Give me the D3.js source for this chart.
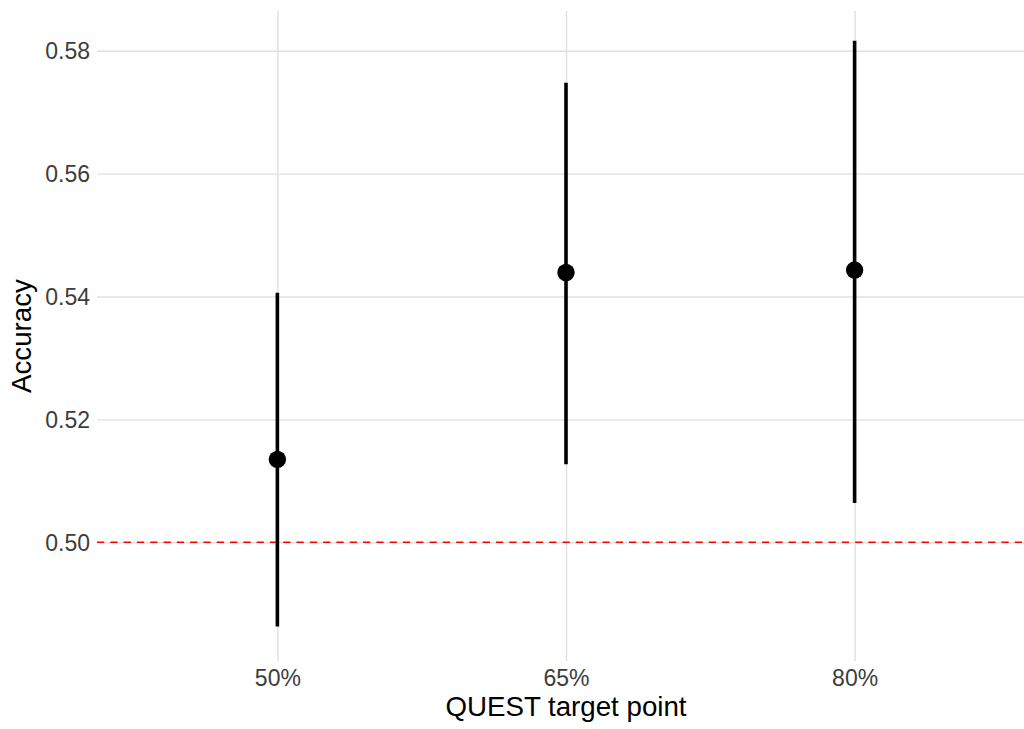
<!DOCTYPE html>
<html>
<head>
<meta charset="utf-8">
<script src="https://cdn.jsdelivr.net/npm/d3@7"></script>
<style>
  html, body { margin: 0; padding: 0; background: #ffffff; }
  svg { display: block; }
</style>
</head>
<body>
<svg id="chart" width="1024" height="729"></svg>
<script>
// ---- data ----
const categories = ["50%", "65%", "80%"];
const means = [0.5135, 0.5439, 0.5443];
const lower = [0.4863, 0.5127, 0.5064];
const upper = [0.5406, 0.5748, 0.5816];
const yTicks = [0.50, 0.52, 0.54, 0.56, 0.58];
const chanceLevel = 0.5;
const xTitle = "QUEST target point";
const yTitle = "Accuracy";

// ---- layout ----
const W = 1024, H = 729;
const panel = { left: 97, right: 1035, top: 11, bottom: 661 };

const svg = d3.select("#chart");
svg.append("rect").attr("width", W).attr("height", H).attr("fill", "#ffffff");

const x = d3.scalePoint()
  .domain(categories)
  .range([panel.left, panel.right])
  .padding(0.625);

const y = d3.scaleLinear()
  .domain([0.48068, 0.58646])
  .range([panel.bottom, panel.top]);

const gridColor = "#e0e0e0";
const tickColor = "#3d3d3d";
const fontFam = "'Liberation Sans', Arial, Helvetica, sans-serif";

// horizontal grid
const yAxis = d3.axisLeft(y).tickValues(yTicks).tickFormat(d3.format(".2f"))
  .tickSize(-(panel.right - panel.left)).tickPadding(7);
const gy = svg.append("g").attr("transform", `translate(${panel.left},0)`).call(yAxis);
gy.select(".domain").remove();
gy.selectAll(".tick line").attr("stroke", gridColor).attr("stroke-width", 1.4);
gy.selectAll(".tick text")
  .attr("fill", tickColor)
  .attr("font-family", fontFam)
  .attr("font-size", 23)
  .attr("x", -7)
  .attr("dy", "0.36em");

// vertical grid
const xAxis = d3.axisBottom(x).tickSize(-(panel.bottom - panel.top)).tickPadding(10);
const gx = svg.append("g").attr("transform", `translate(0,${panel.bottom})`).call(xAxis);
gx.select(".domain").remove();
gx.selectAll(".tick line").attr("stroke", gridColor).attr("stroke-width", 1.4);
gx.selectAll(".tick text")
  .attr("fill", tickColor)
  .attr("font-family", fontFam)
  .attr("font-size", 23)
  .attr("y", 0)
  .attr("dy", "1.09em");

// red dashed reference line
svg.append("line")
  .attr("x1", panel.left).attr("x2", panel.right)
  .attr("y1", y(chanceLevel)).attr("y2", y(chanceLevel))
  .attr("stroke", "#ff0000")
  .attr("stroke-width", 1.6)
  .attr("stroke-dasharray", "7.3,6");

// error bars
const data = categories.map((c, i) => ({ c, m: means[i], lo: lower[i], hi: upper[i] }));
svg.append("g").selectAll("line").data(data).join("line")
  .attr("x1", d => x(d.c)).attr("x2", d => x(d.c))
  .attr("y1", d => y(d.lo)).attr("y2", d => y(d.hi))
  .attr("stroke", "#000000")
  .attr("stroke-width", 3.6);

// points
svg.append("g").selectAll("circle").data(data).join("circle")
  .attr("cx", d => x(d.c)).attr("cy", d => y(d.m))
  .attr("r", 8.7)
  .attr("fill", "#000000");

// axis titles
svg.append("text")
  .attr("x", (panel.left + panel.right) / 2)
  .attr("y", 716)
  .attr("text-anchor", "middle")
  .attr("font-family", fontFam)
  .attr("font-size", 27.7)
  .attr("fill", "#000000")
  .text(xTitle);

svg.append("text")
  .attr("transform", `translate(31,${(panel.top + panel.bottom) / 2}) rotate(-90)`)
  .attr("text-anchor", "middle")
  .attr("font-family", fontFam)
  .attr("font-size", 27.7)
  .attr("fill", "#000000")
  .text(yTitle);
</script>
</body>
</html>
